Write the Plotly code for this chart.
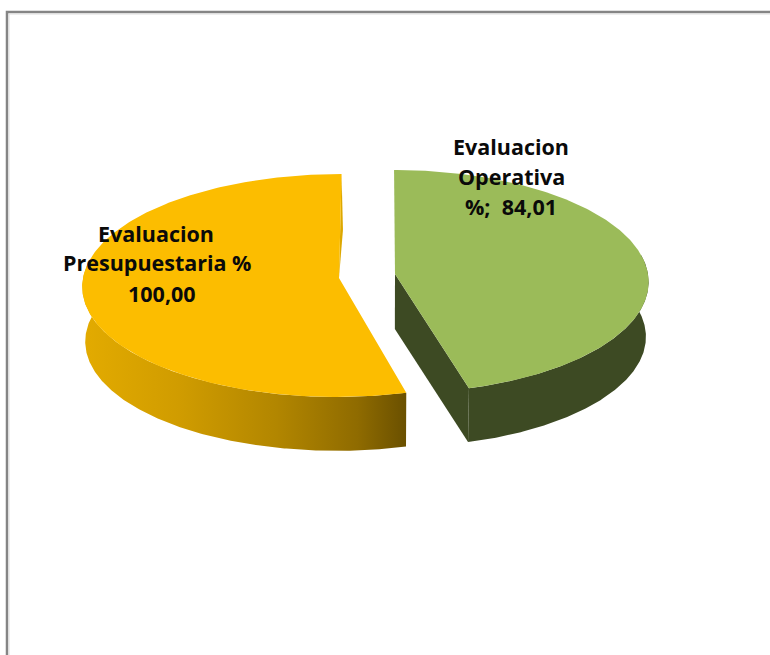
import numpy as np
import plotly.graph_objects as go

categories = ["Evaluacion Operativa %", "Evaluacion Presupuestaria %"]
values = [84.01, 100.00]
label_lines = [["Evaluacion", "Operativa", "%;  {v}"], ["Evaluacion", "Presupuestaria %", "{v}"]]

# chart styling / projection (not data)
label_pos = [[(511, 146), (511, 176), (511, 206)], [(156, 233), (157, 262), (162, 293)]]
top_col = ["#9BBB59", "#FCBD00"]
side_col = ["#3D4A23", "#D9A300"]
centers = [(395, 274), (339, 278)]
radii_x = [253, 256]
PIVOT_X, RY, K, DEPTH, SHRINK = 380, 111, 0.067, 55, 0.99

total = sum(values)
sweep = values[0] / total * 360


def project(i, thetas, radial=1.0, lower=False):
    cx, cy = centers[i]
    t = np.radians(thetas)
    X, Y = radial * np.sin(t), radial * np.cos(t)
    s = 1 / (1 + K * Y)
    f = SHRINK if lower else 1.0
    x = PIVOT_X + (cx - PIVOT_X + radii_x[i] * X) * s * f
    y = cy + (DEPTH if lower else 0) - RY * Y * s * f
    return x, y


def poly(x, y, color=None, grad=None):
    kw = dict(x=list(x), y=list(y), mode="lines", line=dict(width=0), fill="toself", hoverinfo="skip", showlegend=False)
    if grad:
        kw["fillgradient"] = dict(type="horizontal", colorscale=grad)
    else:
        kw["fillcolor"] = color
    return go.Scatter(**kw)


fig = go.Figure()
ranges = [(0, sweep), (sweep + 0.8, 360)]
walls = [(80, sweep), (sweep + 0.8, 280)]

# outer walls and cut faces first, then the top faces
for i, (a, b) in enumerate(walls):
    th = np.linspace(a, b, 240)
    xt, yt = project(i, th)
    xb, yb = project(i, th, lower=True)
    grad = None
    if i == 1:
        grad = [[0, "#E3AB00"], [0.3, "#D09C00"], [0.6, "#B28600"], [0.85, "#8F6B00"], [1, "#6A5000"]]
    fig.add_trace(poly(np.r_[xt, xb[::-1]], np.r_[yt, yb[::-1]], side_col[i], grad))

# cut face of the green slice
ex_t, ey_t = project(0, [sweep])
ex_b, ey_b = project(0, [sweep], lower=True)
c0t = project(0, [sweep], radial=0)
c0b = project(0, [sweep], radial=0, lower=True)
fig.add_trace(poly([c0t[0][0], ex_t[0], ex_b[0], c0b[0][0]], [c0t[1][0], ey_t[0], ey_b[0], c0b[1][0]], side_col[0]))

# thin visible sliver of the yellow slice's back cut
bx_t, by_t = project(1, [360])
bx_b, by_b = project(1, [360], lower=True)
c1t = project(1, [360], radial=0)
fig.add_trace(poly([c1t[0][0], bx_t[0], bx_b[0] + 1], [c1t[1][0], by_t[0], by_b[0]], "#DDA800"))

for i, (a, b) in enumerate(ranges):
    th = np.linspace(a, b, 240)
    xt, yt = project(i, th)
    c0 = project(i, [a], radial=0)
    fig.add_trace(poly(np.r_[c0[0], xt], np.r_[c0[1], yt], top_col[i]))

fig.add_shape(type="path", path="M 7 700 L 7 12 L 800 12", line=dict(color="#858585", width=2.5), layer="above")
fig.add_shape(type="path", path="M 9 700 L 9 14 L 800 14", line=dict(color="#DDDDDD", width=1), layer="above")

for i, lines in enumerate(label_lines):
    txt_val = f"{values[i]:.2f}".replace(".", ",")
    for line, (px, py) in zip(lines, label_pos[i]):
        fig.add_annotation(x=px, y=py, text=line.format(v=txt_val), showarrow=False,
                           font=dict(family="Open Sans", size=21.5, color="#0A0A0A", weight=700),
                           xanchor="center", yanchor="middle")

fig.update_layout(
    width=770, height=655, margin=dict(l=0, r=0, t=0, b=0),
    paper_bgcolor="white", plot_bgcolor="white", showlegend=False,
    xaxis=dict(range=[0, 770], visible=False, fixedrange=True),
    yaxis=dict(range=[655, 0], visible=False, fixedrange=True),
)
fig.write_html("out.html", post_script="document.body.style.margin='0';", config=dict(displayModeBar=False))
